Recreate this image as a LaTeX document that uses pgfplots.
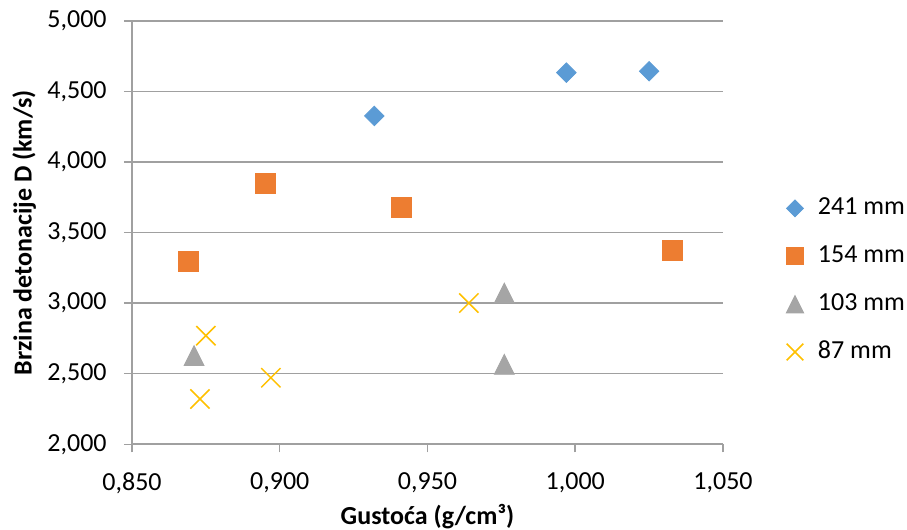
\documentclass[border=0pt]{standalone}
\usepackage{fontspec}
\setmainfont{Carlito}
\usepackage{pgfplots}
\pgfplotsset{compat=1.18}
\definecolor{cblue}{HTML}{5B9BD5}
\definecolor{corange}{HTML}{ED7D31}
\definecolor{cgray}{HTML}{A5A5A5}
\definecolor{cyellow}{HTML}{FFC000}
\definecolor{gridc}{HTML}{A0A0A0}
\begin{document}
\fontsize{13}{15.6}\selectfont
\begin{tikzpicture}
\useasboundingbox (-66pt,-42.85pt) rectangle (387.5pt,222.15pt);
\begin{axis}[
  at={(0pt,0pt)}, anchor=south west,
  width=295.5pt, height=211.65pt, scale only axis,
  xmin=0.85, xmax=1.05, ymin=2000, ymax=5000,
  xtick={0.85,0.9,0.95,1.0,1.05},
  ytick={2000,2500,3000,3500,4000,4500,5000},
  scaled ticks=false,
  axis lines=left,
  axis line style={-, draw=gridc, line width=1pt},
  tick align=outside,
  major tick length=4pt,
  tick style={draw=gridc, line width=0.75pt},
  ymajorgrids,
  major grid style={draw=gridc, line width=0.75pt},
  /pgf/number format/assume math mode=true,
  xticklabel style={/pgf/number format/.cd, fixed, fixed zerofill, precision=3, use comma, /tikz/.cd, anchor=north, inner sep=0pt, yshift=-10.2pt},
  yticklabel style={/pgf/number format/.cd, fixed, precision=0, 1000 sep={,}, /tikz/.cd, anchor=east, inner sep=0pt, xshift=-8.5pt},
  every axis x label/.style={at={(axis description cs:0.5,-0.1883)}, anchor=base, font=\bfseries},
  every axis y label/.style={at={(axis description cs:-0.1697,0.5)}, rotate=90, anchor=base, font=\bfseries},
  xlabel={Gustoća (g/cm³)},
  ylabel={Brzina detonacije D (km/s)},
  legend style={at={(axis description cs:1.10491,0.58186)}, anchor=north west, draw=none, fill=none, inner sep=0pt, outer sep=0pt, row sep=13.5pt, column sep=6.5pt, cells={anchor=west}, nodes={inner sep=0pt}},
  legend image code/.code={\path[draw=none, fill=none] (-5pt,-5pt) rectangle (5pt,5pt); \draw[#1, only marks, every mark/.append style={scale=0.87}] plot coordinates {(0pt,0pt)};},
]
\addplot[only marks, mark=square*, mark size=3.45pt, mark options={rotate=45, draw=cblue, fill=cblue}] coordinates {
  (0.932,4327) (0.997,4634) (1.025,4644)
};
\addlegendentry{241 mm}
\addplot[only marks, mark=square*, mark size=5pt, mark options={draw=corange, fill=corange}] coordinates {
  (0.869,3299) (0.895,3852) (0.941,3682) (1.033,3377)
};
\addlegendentry{154 mm}
\addplot[only marks, mark=triangle*, mark size=5.77pt, mark options={draw=cgray, fill=cgray, yshift=-1.67pt, yscale=1.155}] coordinates {
  (0.871,2629) (0.976,3072) (0.976,2567)
};
\addlegendentry{103 mm}
\addplot[only marks, mark=x, mark size=6.8pt, mark options={draw=cyellow, line width=0.75pt}] coordinates {
  (0.875,2770) (0.873,2321) (0.897,2472) (0.964,3001)
};
\addlegendentry{87 mm}
\end{axis}
\end{tikzpicture}
\end{document}
